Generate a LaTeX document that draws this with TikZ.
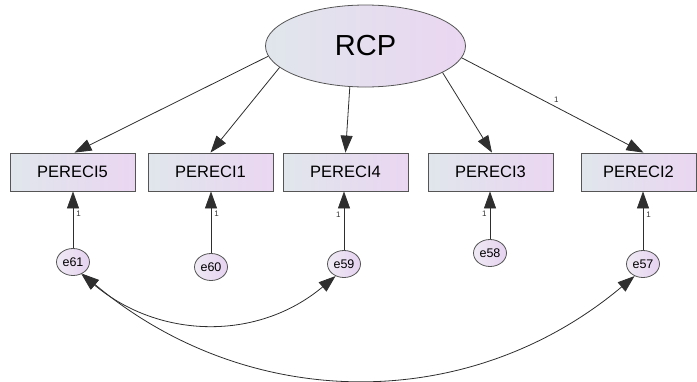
\documentclass[tikz,border=0pt]{standalone}
\usepackage{fontspec}
\setmainfont{Liberation Sans}
\usetikzlibrary{arrows.meta,shapes.geometric}
\definecolor{fillA}{HTML}{E0E6EC}
\definecolor{fillB}{HTML}{EAD6F1}
\definecolor{errA}{HTML}{EFEAF4}
\definecolor{errB}{HTML}{E6D2F0}
\definecolor{edge}{HTML}{555555}
\definecolor{wire}{HTML}{2E2E2E}

\begin{document}
\begin{tikzpicture}[x=1pt,y=1pt,
  indicator/.style={draw=edge, line width=0.8pt, left color=fillA, right color=fillB,
    minimum width=125pt, minimum height=38pt, inner sep=0pt,
    font=\fontsize{16.5}{19}\selectfont},
  latent/.style={ellipse, draw=edge, line width=0.8pt, left color=fillA, right color=fillB,
    minimum width=200pt, minimum height=82pt, inner sep=0pt,
    font=\fontsize{29}{34}\selectfont},
  errvar/.style={ellipse, draw=edge, line width=0.8pt, left color=errA, right color=errB,
    minimum width=33pt, minimum height=27pt, inner sep=0pt,
    font=\fontsize{12.5}{14}\selectfont},
  loading/.style={draw=wire, line width=0.8pt, -{Triangle[length=17pt,width=12pt]}},
  covar/.style={draw=wire, line width=0.8pt,
    {Triangle[length=17pt,width=12pt]}-{Triangle[length=17pt,width=12pt]}},
  weight/.style={font=\fontsize{8}{9}\selectfont, inner sep=0pt, text=black!80}
]
\useasboundingbox (0,0) rectangle (697,-381);

% latent factor
\node[latent] (rcp) at (365.5,-46) {RCP};

% observed indicators
\node[indicator] (p5) at (72.5,-172) {PERECI5};
\node[indicator] (p1) at (210.5,-172) {PERECI1};
\node[indicator] (p4) at (345.5,-172) {PERECI4};
\node[indicator] (p3) at (490.5,-172) {PERECI3};
\node[indicator, minimum width=115pt] (p2) at (638.5,-172) {PERECI2};

% measurement errors
\node[errvar] (e61) at (73,-262) {e61};
\node[errvar] (e60) at (211,-267) {e60};
\node[errvar] (e59) at (344,-264) {e59};
\node[errvar] (e58) at (490,-253) {e58};
\node[errvar] (e57) at (643,-264) {e57};

% factor loadings
\draw[loading] (rcp.186) -- ([xshift=2pt]p5.north);
\draw[loading] (rcp.194) -- (p1.north);
\draw[loading] (rcp.249) -- (p4.north);
\draw[loading] (rcp.341) -- ([xshift=1.5pt]p3.north);
\draw[loading] (rcp.353) -- ([xshift=5pt]p2.north)
  node[weight, pos=0.52, above=4pt] {1};

% error paths
\draw[loading] (e61.north) -- (e61.north |- p5.south)
  node[weight, pos=0.6, right=3pt] {1};
\draw[loading] (e60.north) -- (e60.north |- p1.south)
  node[weight, pos=0.64, right=3pt] {1};
\draw[loading] (e59.north) -- (e59.north |- p4.south)
  node[weight, pos=0.61, left=3pt] {1};
\draw[loading] (e58.north) -- (e58.north |- p3.south)
  node[weight, pos=0.53, left=3pt] {1};
\draw[loading] (e57.north) -- (e57.north |- p2.south)
  node[weight, pos=0.6, right=3pt] {1};

% error covariances
\draw[covar] (e61.-55) to[out=-40, in=-140, looseness=1.02] (e59.-125);
\draw[covar] (e61.-52) to[out=-40, in=-140, looseness=1.0] (e57.-125);
\end{tikzpicture}
\end{document}
